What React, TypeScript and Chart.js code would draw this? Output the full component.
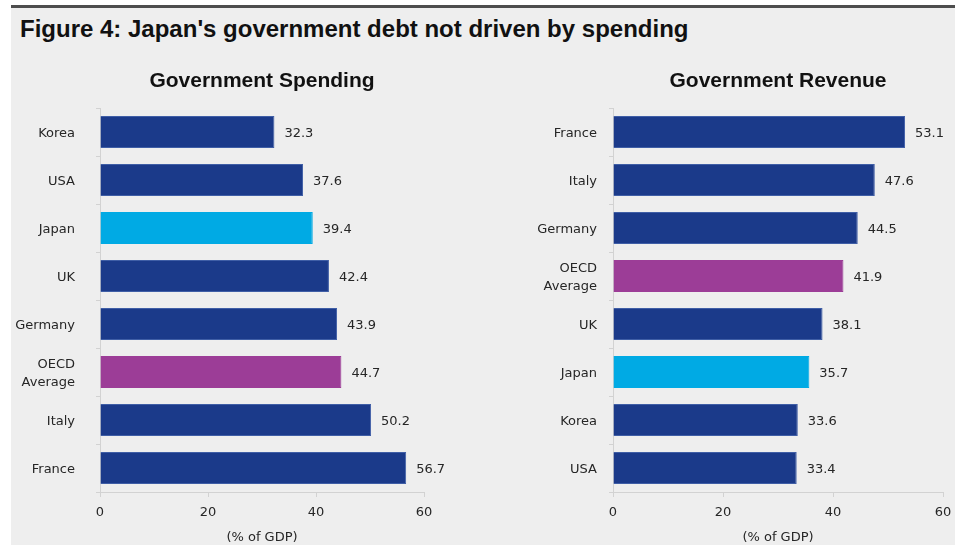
import React, { useEffect, useRef } from 'react';
import { Chart, registerables } from 'chart.js';

Chart.register(...registerables);

const figureTitle = "Figure 4: Japan's government debt not driven by spending";
const axisTitle = '(% of GDP)';

const spendingTitle = 'Government Spending';
const spendingCategories: (string | string[])[] = ['Korea', 'USA', 'Japan', 'UK', 'Germany', ['OECD', 'Average'], 'Italy', 'France'];
const spendingValues = [32.3, 37.6, 39.4, 42.4, 43.9, 44.7, 50.2, 56.7];

const revenueTitle = 'Government Revenue';
const revenueCategories: (string | string[])[] = ['France', 'Italy', 'Germany', ['OECD', 'Average'], 'UK', 'Japan', 'Korea', 'USA'];
const revenueValues = [53.1, 47.6, 44.5, 41.9, 38.1, 35.7, 33.6, 33.4];

const xMin = 0;
const xMax = 60;
const xStep = 20;

const DARK = '#1B3A8A';
const LIGHT = '#00AAE4';
const PURPLE = '#9C3D97';
const TEXT = '#262626';
const AXIS = '#D2D2D2';
const FONT = "'DejaVu Sans', sans-serif";
const TITLE_FONT = "'Liberation Sans', Arial, sans-serif";

function labelText(l: string | string[]) {
  return Array.isArray(l) ? l.join(' ') : l;
}
function barColor(l: string | string[]) {
  const s = labelText(l);
  if (s === 'Japan') return LIGHT;
  if (s.startsWith('OECD')) return PURPLE;
  return DARK;
}
function barBorder(l: string | string[]) {
  const c = barColor(l);
  return c === DARK ? '#3F5EA6' : c;
}

const valueLabels = {
  id: 'valueLabels',
  afterDatasetsDraw(chart: any) {
    const ctx = chart.ctx;
    const meta = chart.getDatasetMeta(0);
    const data = chart.data.datasets[0].data;
    ctx.save();
    ctx.font = `13px ${FONT}`;
    ctx.fillStyle = TEXT;
    ctx.textAlign = 'left';
    ctx.textBaseline = 'middle';
    meta.data.forEach((bar: any, i: number) => {
      ctx.fillText(Number(data[i]).toFixed(1), bar.x + 10, bar.y + 1.5);
    });
    ctx.restore();
  },
};

const panelTitle = {
  id: 'panelTitle',
  afterDraw(chart: any, _args: any, opts: any) {
    const ctx = chart.ctx;
    const ca = chart.chartArea;
    ctx.save();
    ctx.font = `bold 21px ${TITLE_FONT}`;
    ctx.fillStyle = '#111';
    ctx.textAlign = 'center';
    ctx.textBaseline = 'middle';
    ctx.fillText(opts.text, (ca.left + ca.right) / 2, 21);
    ctx.restore();
  },
};

function makeConfig(title: string, categories: (string | string[])[], values: number[], yWidth: number, labelPad: number, rightPad: number): any {
  return {
    type: 'bar',
    data: {
      labels: categories,
      datasets: [
        {
          data: values,
          backgroundColor: categories.map(barColor),
          borderColor: categories.map(barBorder),
          borderWidth: 1,
          barPercentage: 0.667,
          categoryPercentage: 1,
        },
      ],
    },
    options: {
      indexAxis: 'y',
      animation: false,
      responsive: false,
      maintainAspectRatio: false,
      layout: { padding: { top: 48, right: rightPad, left: 0, bottom: 0 } },
      plugins: {
        legend: { display: false },
        tooltip: { enabled: false },
        panelTitle: { text: title },
      },
      scales: {
        x: {
          min: xMin,
          max: xMax,
          ticks: { stepSize: xStep, font: { family: FONT, size: 13 }, color: TEXT, padding: 8 },
          grid: { drawOnChartArea: false, drawTicks: true, tickLength: 5, color: AXIS },
          border: { color: AXIS },
          title: { display: true, text: axisTitle, font: { family: FONT, size: 13 }, color: TEXT, padding: { top: 0, bottom: 0 } },
          afterFit: (s: any) => {
            s.height = 53;
            s.paddingLeft = 0;
            s.paddingRight = 0;
          },
        },
        y: {
          ticks: { font: { family: FONT, size: 13, lineHeight: 1.4 }, color: TEXT, padding: labelPad, labelOffset: 1.5 },
          grid: { drawOnChartArea: false, drawTicks: true, tickLength: 4, color: AXIS },
          border: { color: AXIS },
          afterFit: (s: any) => {
            s.width = yWidth;
          },
        },
      },
    },
    plugins: [valueLabels, panelTitle],
  };
}

function Panel(props: { left: number; width: number; config: any }) {
  const ref = useRef<HTMLCanvasElement>(null);
  useEffect(() => {
    const chart = new Chart(ref.current as HTMLCanvasElement, props.config);
    return () => chart.destroy();
  }, []);
  return (
    <canvas
      ref={ref}
      width={props.width}
      height={485}
      style={{ position: 'absolute', left: props.left, top: 60, width: props.width, height: 485 }}
    />
  );
}

export default function App() {
  return (
    <div style={{ position: 'absolute', left: 0, top: 0, width: 955, height: 545, background: '#fff', overflow: 'hidden' }}>
      <div style={{ position: 'absolute', left: 11, top: 8, right: 0, bottom: 0, background: '#EEEEEE' }} />
      <div style={{ position: 'absolute', left: 11, top: 5, right: 0, height: 3, background: '#4D4D4D' }} />
      <div
        style={{
          position: 'absolute',
          left: 20,
          top: 15,
          lineHeight: '26px',
          font: `bold 24px ${TITLE_FONT}`,
          color: '#111',
          whiteSpace: 'nowrap',
        }}
      >
        {figureTitle}
      </div>
      <Panel left={11} width={470} config={makeConfig(spendingTitle, spendingCategories, spendingValues, 89, 21, 57)} />
      <Panel left={481} width={474} config={makeConfig(revenueTitle, revenueCategories, revenueValues, 132, 12, 12)} />
    </div>
  );
}
